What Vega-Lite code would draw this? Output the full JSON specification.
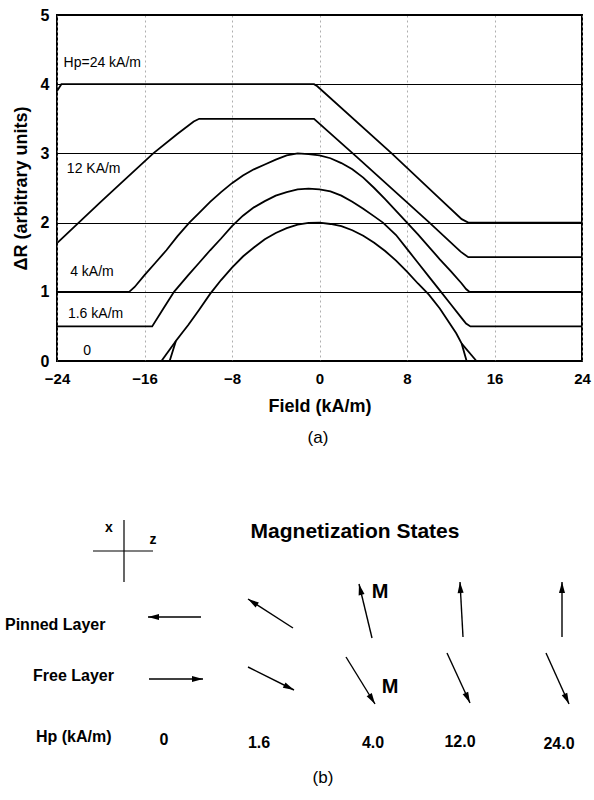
{
  "$schema": "https://vega.github.io/schema/vega-lite/v6.json",
  "padding": {"left": 5, "top": 6, "right": 5, "bottom": 5},
  "background": "white",
  "config": {"font": "Liberation Sans", "view": {"stroke": null}},
  "spacing": 9,
  "vconcat": [
    {
      "width": 525,
      "height": 346,
      "view": {"stroke": "black", "strokeWidth": 2},
      "layer": [
        {
          "data": {"values": [
            {"s": "0", "x": -13.7, "y": 0}, {"s": "0", "x": -13.13, "y": 0.29}, {"s": "0", "x": -12.5, "y": 0.42},
            {"s": "0", "x": -12, "y": 0.52}, {"s": "0", "x": -11, "y": 0.74}, {"s": "0", "x": -10, "y": 0.97},
            {"s": "0", "x": -9, "y": 1.17}, {"s": "0", "x": -8, "y": 1.35}, {"s": "0", "x": -7, "y": 1.51},
            {"s": "0", "x": -6, "y": 1.64}, {"s": "0", "x": -5, "y": 1.76}, {"s": "0", "x": -4, "y": 1.85},
            {"s": "0", "x": -3, "y": 1.92}, {"s": "0", "x": -2, "y": 1.97}, {"s": "0", "x": -1, "y": 1.995},
            {"s": "0", "x": 0, "y": 2.0}, {"s": "0", "x": 1, "y": 1.98}, {"s": "0", "x": 2, "y": 1.95},
            {"s": "0", "x": 3, "y": 1.89}, {"s": "0", "x": 4, "y": 1.81}, {"s": "0", "x": 5, "y": 1.71},
            {"s": "0", "x": 6, "y": 1.59}, {"s": "0", "x": 7, "y": 1.45}, {"s": "0", "x": 8, "y": 1.29},
            {"s": "0", "x": 9, "y": 1.12}, {"s": "0", "x": 10, "y": 0.96}, {"s": "0", "x": 11, "y": 0.76},
            {"s": "0", "x": 12, "y": 0.52}, {"s": "0", "x": 12.5, "y": 0.4}, {"s": "0", "x": 13, "y": 0.25},
            {"s": "0", "x": 13.45, "y": 0},
            {"s": "0L", "x": -14.45, "y": 0}, {"s": "0L", "x": -13.13, "y": 0.29},
            {"s": "0R", "x": 13.0, "y": 0.25}, {"s": "0R", "x": 14.35, "y": 0},
            {"s": "1.6", "x": -24, "y": 0.5}, {"s": "1.6", "x": -15.3, "y": 0.5}, {"s": "1.6", "x": -14.3, "y": 0.75},
            {"s": "1.6", "x": -13.3, "y": 1.0}, {"s": "1.6", "x": -12, "y": 1.24}, {"s": "1.6", "x": -11, "y": 1.42},
            {"s": "1.6", "x": -10, "y": 1.6}, {"s": "1.6", "x": -9, "y": 1.77}, {"s": "1.6", "x": -8, "y": 1.95},
            {"s": "1.6", "x": -7, "y": 2.1}, {"s": "1.6", "x": -6, "y": 2.22}, {"s": "1.6", "x": -5, "y": 2.31},
            {"s": "1.6", "x": -4, "y": 2.39}, {"s": "1.6", "x": -3, "y": 2.44}, {"s": "1.6", "x": -2, "y": 2.48},
            {"s": "1.6", "x": -1, "y": 2.49}, {"s": "1.6", "x": 0, "y": 2.48}, {"s": "1.6", "x": 1, "y": 2.45},
            {"s": "1.6", "x": 2, "y": 2.39}, {"s": "1.6", "x": 3, "y": 2.3}, {"s": "1.6", "x": 4, "y": 2.2},
            {"s": "1.6", "x": 5, "y": 2.09}, {"s": "1.6", "x": 5.8, "y": 2.0}, {"s": "1.6", "x": 7, "y": 1.82},
            {"s": "1.6", "x": 8, "y": 1.62}, {"s": "1.6", "x": 9, "y": 1.42}, {"s": "1.6", "x": 10, "y": 1.22},
            {"s": "1.6", "x": 11, "y": 1.02}, {"s": "1.6", "x": 12, "y": 0.82}, {"s": "1.6", "x": 13, "y": 0.62},
            {"s": "1.6", "x": 13.4, "y": 0.54}, {"s": "1.6", "x": 13.8, "y": 0.5}, {"s": "1.6", "x": 24, "y": 0.5},
            {"s": "4", "x": -24, "y": 1}, {"s": "4", "x": -17.4, "y": 1}, {"s": "4", "x": -16.9, "y": 1.07},
            {"s": "4", "x": -16, "y": 1.24}, {"s": "4", "x": -15, "y": 1.42}, {"s": "4", "x": -14, "y": 1.6},
            {"s": "4", "x": -13, "y": 1.8}, {"s": "4", "x": -11.9, "y": 2.0}, {"s": "4", "x": -11, "y": 2.14},
            {"s": "4", "x": -10, "y": 2.3}, {"s": "4", "x": -9, "y": 2.44}, {"s": "4", "x": -8, "y": 2.57},
            {"s": "4", "x": -7, "y": 2.68}, {"s": "4", "x": -6, "y": 2.77}, {"s": "4", "x": -5, "y": 2.84},
            {"s": "4", "x": -4, "y": 2.91}, {"s": "4", "x": -3, "y": 2.97}, {"s": "4", "x": -2, "y": 3.0},
            {"s": "4", "x": -1, "y": 2.99}, {"s": "4", "x": 0, "y": 2.97}, {"s": "4", "x": 1, "y": 2.93},
            {"s": "4", "x": 2, "y": 2.86}, {"s": "4", "x": 3, "y": 2.77}, {"s": "4", "x": 4, "y": 2.65},
            {"s": "4", "x": 5, "y": 2.5}, {"s": "4", "x": 6, "y": 2.34}, {"s": "4", "x": 7, "y": 2.17},
            {"s": "4", "x": 8, "y": 2.0}, {"s": "4", "x": 9, "y": 1.83}, {"s": "4", "x": 10, "y": 1.65},
            {"s": "4", "x": 11, "y": 1.47}, {"s": "4", "x": 12, "y": 1.3}, {"s": "4", "x": 13, "y": 1.12},
            {"s": "4", "x": 13.4, "y": 1.04}, {"s": "4", "x": 13.7, "y": 1.0}, {"s": "4", "x": 24, "y": 1.0},
            {"s": "12", "x": -23.95, "y": 1.71}, {"s": "12", "x": -20, "y": 2.3}, {"s": "12", "x": -17.95, "y": 2.6},
            {"s": "12", "x": -15.2, "y": 3.0}, {"s": "12", "x": -13, "y": 3.28}, {"s": "12", "x": -11.5, "y": 3.46},
            {"s": "12", "x": -11.0, "y": 3.5},
            {"s": "12", "x": -0.5, "y": 3.5}, {"s": "12", "x": 3.4, "y": 2.95}, {"s": "12", "x": 10.05, "y": 2.0},
            {"s": "12", "x": 12.9, "y": 1.58}, {"s": "12", "x": 13.6, "y": 1.5}, {"s": "12", "x": 24, "y": 1.5},
            {"s": "24", "x": -24, "y": 3.9}, {"s": "24", "x": -23.6, "y": 4.0}, {"s": "24", "x": -0.5, "y": 4.0},
            {"s": "24", "x": -0.2, "y": 3.97}, {"s": "24", "x": 6.6, "y": 3.0}, {"s": "24", "x": 10.97, "y": 2.35},
            {"s": "24", "x": 13.0, "y": 2.05}, {"s": "24", "x": 13.6, "y": 2.0}, {"s": "24", "x": 24, "y": 2.0}
          ]},
          "mark": {"type": "line", "color": "black", "strokeWidth": 1.8},
          "encoding": {
            "x": {"field": "x", "type": "quantitative", "scale": {"domain": [-24, 24], "nice": false},
              "axis": {"title": "Field (kA/m)", "values": [-24, -16, -8, 0, 8, 16, 24], "format": "d", "grid": true,
                "gridDash": [2, 3], "gridColor": "#999", "gridWidth": 0.8, "tickSize": 0, "domain": false,
                "labelFontSize": 15, "labelFontWeight": "bold", "labelColor": "black", "labelPadding": 10,
                "labelFlush": false, "titleFontSize": 18, "titleFontWeight": "bold", "titleColor": "black", "titlePadding": 11}},
            "y": {"field": "y", "type": "quantitative", "scale": {"domain": [0, 5], "nice": false},
              "axis": {"title": "ΔR (arbitrary units)", "values": [0, 1, 2, 3, 4, 5], "format": "d", "grid": true,
                "gridColor": "black", "gridWidth": 1, "tickSize": 0, "domain": false,
                "labelFontSize": 16, "labelFontWeight": "bold", "labelColor": "black", "labelPadding": 8,
                "labelFlush": false, "titleFontSize": 18, "titleFontWeight": "bold", "titleColor": "black", "titlePadding": 10}},
            "detail": {"field": "s"}
          }
        },
        {
          "data": {"values": [
            {"t": "Hp=24 kA/m", "x": -23.4, "y": 4.31},
            {"t": "12 KA/m", "x": -23.1, "y": 2.77},
            {"t": "4 kA/m", "x": -22.8, "y": 1.29},
            {"t": "1.6 kA/m", "x": -23.0, "y": 0.68},
            {"t": "0", "x": -21.6, "y": 0.14}
          ]},
          "mark": {"type": "text", "align": "left", "baseline": "middle", "fontSize": 14, "color": "black"},
          "encoding": {
            "x": {"field": "x", "type": "quantitative"},
            "y": {"field": "y", "type": "quantitative"},
            "text": {"field": "t"}
          }
        }
      ]
    },
    {
      "width": 525,
      "height": 360,
      "view": {"stroke": null},
      "encoding": {
        "x": {"type": "quantitative", "scale": {"domain": [0, 105], "nice": false}, "axis": null},
        "y": {"type": "quantitative", "scale": {"domain": [0, 72], "nice": false}, "axis": null}
      },
      "layer": [
        {
          "data": {"values": [
            {"x": 18.4, "y": 21.2, "x2": 29.2, "y2": 21.2},
            {"x": 38.2, "y": 23.6, "x2": 47.4, "y2": 19},
            {"x": 57.8, "y": 25.6, "x2": 63.6, "y2": 16.2},
            {"x": 78, "y": 26.4, "x2": 82.6, "y2": 16.4},
            {"x": 97.8, "y": 26.4, "x2": 102.4, "y2": 16.2},
            {"x": 28.8, "y": 33.6, "x2": 18.2, "y2": 33.6},
            {"x": 47.2, "y": 31.4, "x2": 38.2, "y2": 37.2},
            {"x": 63, "y": 29.4, "x2": 60.4, "y2": 40.2},
            {"x": 81.2, "y": 29.6, "x2": 80.6, "y2": 40.6},
            {"x": 101, "y": 29.6, "x2": 101, "y2": 40.6}
          ]},
          "transform": [{"calculate": "atan2(datum.x2 - datum.x, datum.y2 - datum.y) * 180 / PI", "as": "ang"}],
          "layer": [
            {
              "mark": {"type": "rule", "color": "black", "strokeWidth": 1.4},
              "encoding": {
                "x": {"field": "x", "type": "quantitative"},
                "y": {"field": "y", "type": "quantitative"},
                "x2": {"field": "x2"},
                "y2": {"field": "y2"}
              }
            },
            {
              "mark": {"type": "point", "shape": "M0,0L-0.55,2L0.55,2Z", "filled": true, "color": "black", "opacity": 1, "size": 121},
              "encoding": {
                "x": {"field": "x2", "type": "quantitative"},
                "y": {"field": "y2", "type": "quantitative"},
                "angle": {"field": "ang", "type": "quantitative", "scale": null}
              }
            }
          ]
        },
        {
          "data": {"values": [
            {"x": 13.4, "y": 53, "x2": 13.4, "y2": 40.6},
            {"x": 7.2, "y": 46.8, "x2": 19.2, "y2": 46.8}
          ]},
          "mark": {"type": "rule", "color": "black", "strokeWidth": 1.2},
          "encoding": {
            "x": {"field": "x", "type": "quantitative"},
            "y": {"field": "y", "type": "quantitative"},
            "x2": {"field": "x2"},
            "y2": {"field": "y2"}
          }
        },
        {
          "data": {"values": [
            {"t": "Pinned Layer", "x": -10.4, "y": 32},
            {"t": "Free Layer", "x": -4.8, "y": 21.8},
            {"t": "Hp (kA/m)", "x": -4.2, "y": 9.6}
          ]},
          "mark": {"type": "text", "align": "left", "baseline": "middle", "fontSize": 16, "fontWeight": "bold", "color": "black"},
          "encoding": {
            "x": {"field": "x", "type": "quantitative"},
            "y": {"field": "y", "type": "quantitative"},
            "text": {"field": "t"}
          }
        },
        {
          "data": {"values": [
            {"t": "0", "x": 21.4, "y": 9},
            {"t": "1.6", "x": 40.4, "y": 8.4},
            {"t": "4.0", "x": 63.2, "y": 8.4},
            {"t": "12.0", "x": 80.6, "y": 8.6},
            {"t": "24.0", "x": 100.4, "y": 8.2}
          ]},
          "mark": {"type": "text", "align": "center", "baseline": "middle", "fontSize": 16, "fontWeight": "bold", "color": "black"},
          "encoding": {
            "x": {"field": "x", "type": "quantitative"},
            "y": {"field": "y", "type": "quantitative"},
            "text": {"field": "t"}
          }
        },
        {
          "data": {"values": [{"t": "Magnetization States", "x": 59.6, "y": 50.6}]},
          "mark": {"type": "text", "align": "center", "baseline": "middle", "fontSize": 21, "fontWeight": "bold", "color": "black"},
          "encoding": {
            "x": {"field": "x", "type": "quantitative"},
            "y": {"field": "y", "type": "quantitative"},
            "text": {"field": "t"}
          }
        },
        {
          "data": {"values": [{"t": "M", "x": 64.6, "y": 38.6}, {"t": "M", "x": 66.6, "y": 19.6}]},
          "mark": {"type": "text", "align": "center", "baseline": "middle", "fontSize": 20, "fontWeight": "bold", "color": "black"},
          "encoding": {
            "x": {"field": "x", "type": "quantitative"},
            "y": {"field": "y", "type": "quantitative"},
            "text": {"field": "t"}
          }
        },
        {
          "data": {"values": [{"t": "x", "x": 10.4, "y": 51.4}, {"t": "z", "x": 19.2, "y": 49}]},
          "mark": {"type": "text", "align": "center", "baseline": "middle", "fontSize": 14, "fontWeight": "bold", "color": "black"},
          "encoding": {
            "x": {"field": "x", "type": "quantitative"},
            "y": {"field": "y", "type": "quantitative"},
            "text": {"field": "t"}
          }
        },
        {
          "data": {"values": [{"t": "(a)", "x": 52.2, "y": 69.4}, {"t": "(b)", "x": 53.2, "y": 1.4}]},
          "mark": {"type": "text", "align": "center", "baseline": "middle", "fontSize": 17, "color": "black"},
          "encoding": {
            "x": {"field": "x", "type": "quantitative"},
            "y": {"field": "y", "type": "quantitative"},
            "text": {"field": "t"}
          }
        }
      ]
    }
  ]
}
